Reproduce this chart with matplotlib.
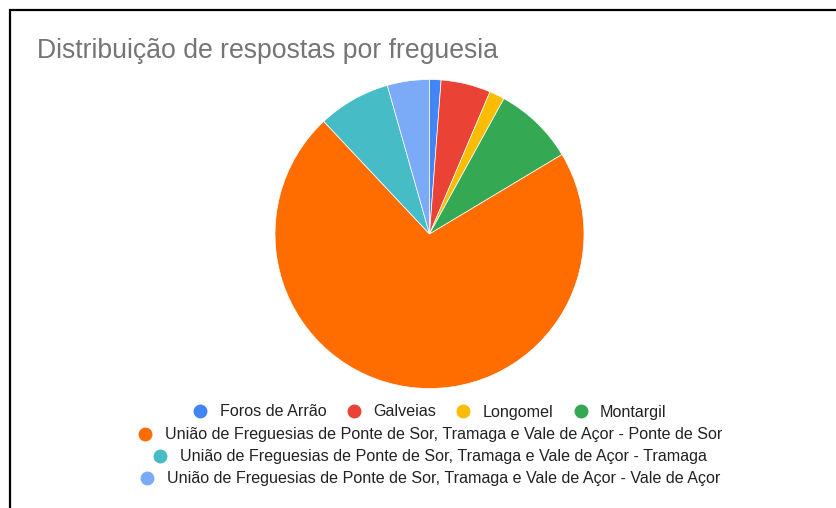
import matplotlib
matplotlib.use('Agg')
import matplotlib.pyplot as plt
from matplotlib.lines import Line2D
from matplotlib.patches import Rectangle

# respostas por freguesia
freguesias = [
    'Foros de Arrão',
    'Galveias',
    'Longomel',
    'Montargil',
    'União de Freguesias de Ponte de Sor, Tramaga e Vale de Açor - Ponte de Sor',
    'União de Freguesias de Ponte de Sor, Tramaga e Vale de Açor - Tramaga',
    'União de Freguesias de Ponte de Sor, Tramaga e Vale de Açor - Vale de Açor',
]
respostas = [3, 13, 4, 21, 179, 19, 11]
cores = ['#4285F4', '#EA4335', '#FBBC04', '#34A853', '#FF6D01', '#46BDC6', '#7BAAF7']

W, H = 837, 508
plt.rcParams['font.family'] = ['Liberation Sans', 'DejaVu Sans']

fig = plt.figure(figsize=(W / 100, H / 100), dpi=100)
fig.patch.set_facecolor('white')

# moldura
fig.add_artist(Rectangle((9.5 / W, -0.1), 2.0, 1 - 10 / H + 0.1,
                         transform=fig.transFigure, fill=False,
                         edgecolor='black', linewidth=1.6))

fig.text(37 / W, 1 - 58 / H, 'Distribuição de respostas por freguesia',
         fontsize=19.2, color='#757575', ha='left', va='baseline')

# pie
cx, cy, r = 429.5, 234, 154.5
ax = fig.add_axes([(cx - r) / W, 1 - (cy + r) / H, 2 * r / W, 2 * r / H])
ax.pie(respostas, colors=cores, startangle=90, counterclock=False, radius=1,
       wedgeprops=dict(edgecolor='white', linewidth=0.5))
ax.set_xlim(-1, 1)
ax.set_ylim(-1, 1)
ax.axis('off')

handles = [Line2D([], [], marker='o', linestyle='none', markersize=9,
                  markerfacecolor=c, markeredgecolor=c) for c in cores]

fs = 11.6
opts = dict(frameon=False, fontsize=fs, handlelength=1.0, handletextpad=0.7,
            columnspacing=1.2, borderpad=0, borderaxespad=0, labelcolor='#222222')

linhas = [(0, 4, 412), (4, 5, 435), (5, 6, 457), (6, 7, 479)]
for a, b, y in linhas:
    fig.legend(handles[a:b], freguesias[a:b], ncol=b - a, loc='center',
               bbox_to_anchor=(429.5 / W, 1 - y / H), **opts)

fig.savefig('out.png', dpi=100)
